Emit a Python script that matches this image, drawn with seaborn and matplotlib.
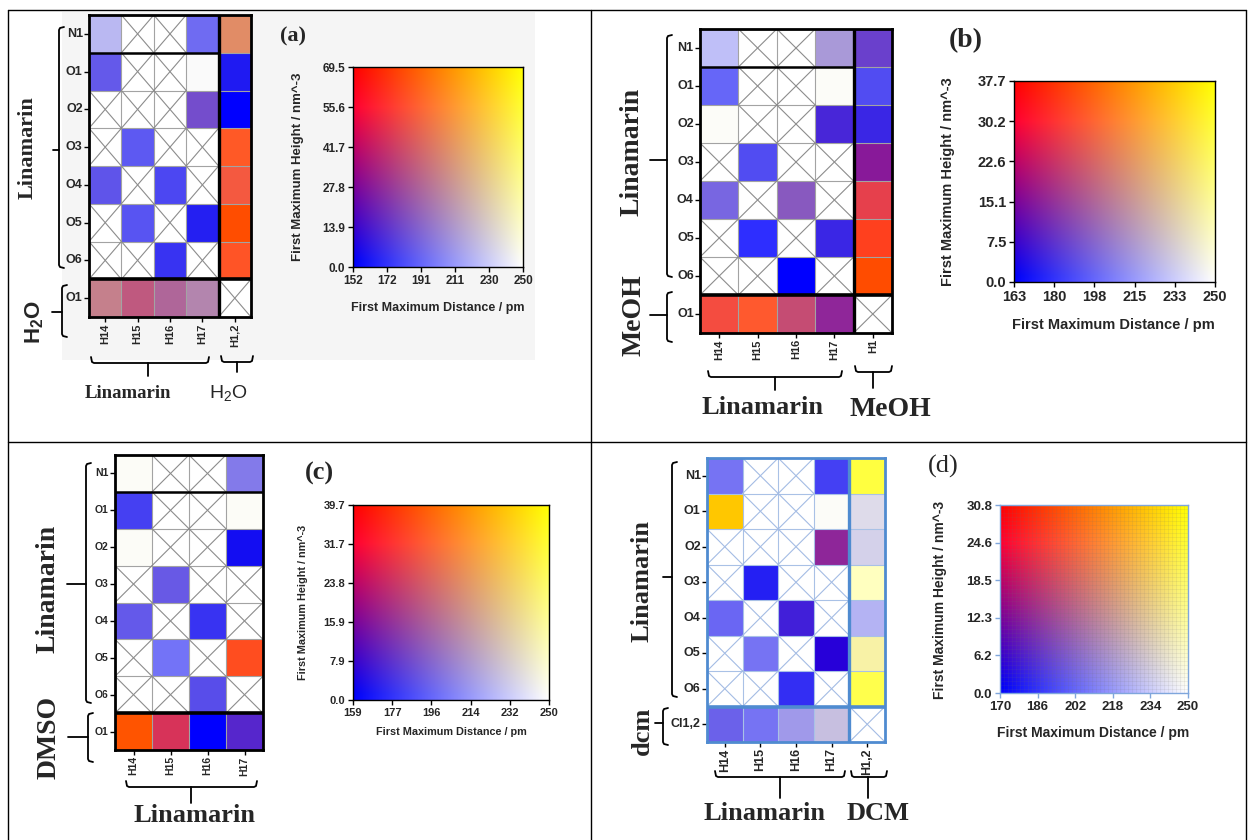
import numpy as np
import matplotlib
matplotlib.use("Agg")
import matplotlib.pyplot as plt
from matplotlib.colors import ListedColormap
from matplotlib.patches import Rectangle
import seaborn as sns

sns.set_theme(style="white")
plt.rcParams['font.family'] = ['Liberation Sans', 'DejaVu Sans']
plt.rcParams['mathtext.fontset'] = 'custom'
plt.rcParams['mathtext.rm'] = 'Liberation Sans'
plt.rcParams['mathtext.bf'] = 'Liberation Sans:bold'
plt.rcParams['mathtext.it'] = 'Liberation Sans:italic'

nan = np.nan

# ---------------- data ----------------
lin_rows = ["N1", "O1", "O2", "O3", "O4", "O5", "O6"]
lin_cols = ["H14", "H15", "H16", "H17"]

# (a) Linamarin in water
a_rows = lin_rows + ["O1"]
a_cols = lin_cols + ["H1,2"]
a_range = (152.0, 250.0, 69.5)
a_xticks = ["152", "172", "191", "211", "230", "250"]
a_yticks = ["0.0", "13.9", "27.8", "41.7", "55.6", "69.5"]
a_dist = [[222.6, nan, nan, 193.2, 205.9],
          [186.3, nan, nan, 248.0, 161.8],
          [nan, nan, nan, 181.4, 152.0],
          [nan, 186.3, nan, nan, 186.3],
          [184.3, nan, 179.4, nan, 186.3],
          [nan, 184.3, nan, 163.8, 181.4],
          [nan, nan, 171.6, nan, 184.3],
          [201.0, 186.3, 191.2, 203.0, nan]]
a_height = [[3.5, nan, nan, 3.5, 41.7],
            [5.6, nan, nan, 1.4, 3.5],
            [nan, nan, nan, 13.9, 0.0],
            [nan, 3.5, nan, nan, 59.1],
            [5.6, nan, 3.5, nan, 52.1],
            [nan, 3.5, nan, 3.5, 69.5],
            [nan, nan, 3.5, nan, 59.1],
            [31.3, 34.8, 27.8, 22.2, nan]]

# (b) Linamarin in methanol
b_rows = lin_rows + ["O1"]
b_cols = lin_cols + ["H1"]
b_range = (163.0, 250.0, 37.7)
b_xticks = ["163", "180", "198", "215", "233", "250"]
b_yticks = ["0.0", "7.5", "15.1", "22.6", "30.2", "37.7"]
b_dist = [[228.3, nan, nan, 215.2, 184.8],
          [197.8, nan, nan, 249.1, 189.1],
          [249.1, nan, nan, 176.1, 176.1],
          [nan, 189.1, nan, nan, 171.7],
          [197.8, nan, 193.5, nan, 184.8],
          [nan, 178.7, nan, 176.1, 184.8],
          [nan, nan, 163.0, nan, 189.1],
          [189.1, 193.5, 189.1, 176.1, nan]]
b_height = [[1.1, nan, nan, 5.7, 7.5],
            [1.1, nan, nan, 1.1, 1.9],
            [1.1, nan, nan, 5.7, 3.8],
            [nan, 1.9, nan, nan, 15.1],
            [4.5, nan, 9.4, nan, 26.4],
            [nan, 0.0, nan, 3.8, 33.2],
            [nan, nan, 0.0, nan, 37.7],
            [28.3, 30.9, 20.7, 15.1, nan]]

# (c) Linamarin in DMSO
c_rows = lin_rows + ["O1"]
c_cols = lin_cols
c_range = (159.0, 250.0, 39.7)
c_xticks = ["159", "177", "196", "214", "232", "250"]
c_yticks = ["0.0", "7.9", "15.9", "23.8", "31.7", "39.7"]
c_dist = [[249.1, nan, nan, 202.7],
          [181.8, nan, nan, 249.1],
          [249.1, nan, nan, 163.6],
          [nan, 190.9, nan, nan],
          [190.9, nan, 177.2, nan],
          [nan, 200.0, nan, 186.3],
          [nan, nan, 186.3, nan],
          [189.0, 177.2, 159.0, 172.7]]
c_height = [[1.2, nan, nan, 3.2],
            [2.0, nan, nan, 1.2],
            [1.2, nan, nan, 2.0],
            [nan, 4.0, nan, nan],
            [3.2, nan, 2.0, nan],
            [nan, 1.2, nan, 34.9],
            [nan, nan, 3.2, nan],
            [39.7, 25.8, 0.0, 7.9]]

# (d) Linamarin in dichloromethane
d_rows = lin_rows + ["Cl1,2"]
d_cols = lin_cols + ["H1,2"]
d_range = (170.0, 250.0, 30.8)
d_xticks = ["170", "186", "202", "218", "234", "250"]
d_yticks = ["0.0", "6.2", "12.3", "18.5", "24.6", "30.8"]
d_dist = [[206.0, nan, nan, 190.0, 250.0],
          [232.4, nan, nan, 249.2, 238.8],
          [nan, nan, nan, 182.0, 235.6],
          [nan, 179.6, nan, nan, 250.0],
          [202.0, nan, 179.6, nan, 226.0],
          [nan, 206.0, nan, 170.0, 246.0],
          [nan, nan, 184.4, nan, 250.0],
          [200.4, 206.0, 218.0, 230.0, nan]]
d_height = [[1.5, nan, nan, 1.5, 23.1],
            [30.8, nan, nan, 0.9, 2.5],
            [nan, nan, nan, 12.3, 2.5],
            [nan, 1.5, nan, nan, 7.7],
            [1.5, nan, 4.6, nan, 1.5],
            [nan, 1.5, nan, 4.6, 10.8],
            [nan, nan, 1.5, nan, 21.6],
            [2.5, 1.5, 2.5, 3.7, nan]]

xlab = "First Maximum Distance / pm"
ylab = "First Maximum Height / nm^-3"

# ---------------- helpers ----------------
W, H = 1254, 840
fig = plt.figure(figsize=(W / 100, H / 100), dpi=100, facecolor='white')


def px_axes(x0, y0, x1, y1):
    return fig.add_axes([x0 / W, 1 - y1 / H, (x1 - x0) / W, (y1 - y0) / H])


def bivar(u, v):
    u = np.clip(u, 0, 1)
    v = np.clip(v, 0, 1)
    rl = np.clip(1.3 * v - 0.04, 0, 1)
    r = 1 - (1 - u) * (1 - rl)
    g = u
    b = 1 - v
    return np.stack([r, g, b], -1)


ov = fig.add_axes([0, 0, 1, 1])
ov.set_xlim(0, W)
ov.set_ylim(H, 0)
ov.axis('off')
ov.set_zorder(-1)

SERIF = ['Liberation Serif', 'DejaVu Serif']

# table lines
for xs, ys in [([8, 1246], [10, 10]), ([8, 1246], [442, 442]),
               ([8, 8], [10, 840]), ([590.5, 590.5], [10, 840]),
               ([1246, 1246], [10, 840])]:
    ov.plot(xs, ys, color='black', lw=1.0)

# light background of panel (a)
ov.add_patch(Rectangle((62, 12), 473, 348, color='#f5f5f5', lw=0))


def draw_grid(box, dist, height, rng, rows, cols, n_main, style, fs_row, fs_col, thick_n1=True):
    ax = px_axes(*box)
    dist = np.asarray(dist, float)
    height = np.asarray(height, float)
    dmin, dmax, hmax = rng
    mask = np.isnan(dist)
    rgb = bivar(np.nan_to_num((dist - dmin) / (dmax - dmin)), np.nan_to_num(height / hmax))
    idx = np.arange(dist.size).reshape(dist.shape)
    sns.heatmap(idx, mask=mask, cmap=ListedColormap(rgb.reshape(-1, 3)),
                vmin=-0.5, vmax=dist.size - 0.5, cbar=False, ax=ax,
                xticklabels=cols, yticklabels=rows)
    ax.set_facecolor('white')
    nr, nc = dist.shape
    grid_c, x_c, frame_c = style
    for i in range(1, nr):
        ax.plot([0, nc], [i, i], color=grid_c, lw=0.8, zorder=3)
    for j in range(1, nc):
        ax.plot([j, j], [0, nr], color=grid_c, lw=0.8, zorder=3)
    for i, j in zip(*np.where(mask)):
        ax.plot([j, j + 1], [i, i + 1], color=x_c, lw=0.8, zorder=3)
        ax.plot([j, j + 1], [i + 1, i], color=x_c, lw=0.8, zorder=3)
    if thick_n1:
        ax.plot([0, n_main], [1, 1], color=frame_c, lw=1.8, zorder=4)
    ax.plot([0, nc], [nr - 1, nr - 1], color=frame_c, lw=2.6, zorder=4)
    if nc > n_main:
        ax.plot([n_main, n_main], [0, nr], color=frame_c, lw=2.4, zorder=4)
    for s in ax.spines.values():
        s.set_visible(True)
        s.set_color(frame_c)
        s.set_linewidth(2.0)
        s.set_zorder(5)
    ax.set_xlim(0, nc)
    ax.set_ylim(nr, 0)
    ax.tick_params(axis='both', which='both', left=True, bottom=True, length=3.5,
                   width=1.0, color='black', pad=1)
    ax.set_yticklabels(rows, rotation=0, fontsize=fs_row, fontweight='bold')
    ax.set_xticklabels(cols, rotation=90, fontsize=fs_col, fontweight='bold')
    return ax


def draw_legend(box, rng, xt, yt, fs_tick, spine_c='black', texture=False):
    ax = px_axes(*box)
    dmin, dmax, hmax = rng
    uu, vv = np.meshgrid(np.linspace(0, 1, 256), np.linspace(0, 1, 256))
    ax.imshow(bivar(uu, vv), origin='lower', extent=[dmin, dmax, 0, hmax],
              aspect='auto', interpolation='bilinear')
    if texture:
        for xv in np.linspace(dmin, dmax, 48):
            ax.axvline(xv, color='#707070', alpha=0.10, lw=0.7)
        for yv in np.linspace(0, hmax, 48):
            ax.axhline(yv, color='#707070', alpha=0.10, lw=0.7)
    ax.set_xlim(dmin, dmax)
    ax.set_ylim(0, hmax)
    ax.grid(False)
    ax.set_xticks(np.linspace(dmin, dmax, 6))
    ax.set_xticklabels(xt, fontsize=fs_tick, fontweight='bold')
    ax.set_yticks(np.linspace(0, hmax, 6))
    ax.set_yticklabels(yt, fontsize=fs_tick, fontweight='bold')
    ax.tick_params(left=True, bottom=True, length=3.5, width=1.0, pad=2, color=spine_c)
    for s in ax.spines.values():
        s.set_visible(True)
        s.set_color(spine_c)
        s.set_linewidth(1.0)
    return ax


def vbracket(x, y0, y1, ym, xstub, curl=5, lw=1.3):
    ov.plot([x + curl, x + 1, x, x, x + 1, x + curl],
            [y0, y0 + 1, y0 + 3, y1 - 3, y1 - 1, y1], color='black', lw=lw)
    ov.plot([x, xstub], [ym, ym], color='black', lw=lw)


def hbracket(y, x0, x1, xm, ystub, curl=6, lw=1.3):
    ov.plot([x0, x0 + 1, x0 + 3, x1 - 3, x1 - 1, x1],
            [y - curl, y - 1, y, y, y - 1, y - curl], color='black', lw=lw)
    ov.plot([xm, xm], [y, ystub], color='black', lw=lw)


black_style = ('#a3a3a3', '#8c8c8c', 'black')
blue_style = ('#a9c1e6', '#a4bce4', '#4f8bd0')

# ---------------- panel (a) ----------------
draw_grid((89, 15, 251, 317), a_dist, a_height, a_range, a_rows, a_cols, 4, black_style, 9, 8)
draw_legend((353, 67, 523, 267), a_range, a_xticks, a_yticks, 8.5)
ov.text(298, 167, ylab, rotation=90, ha='center', va='center', fontsize=9.5, fontweight='bold')
ov.text(438, 308, xlab, ha='center', va='center', fontsize=9, fontweight='bold')
ov.text(293, 36, "(a)", ha='center', va='center', fontsize=16, fontweight='bold', family=SERIF)
vbracket(59, 27, 268, 150, 53)
vbracket(62, 285, 337, 312, 52)
hbracket(363, 91, 209, 148, 376)
hbracket(362, 221, 253, 237, 372)
ov.text(28, 148, "Linamarin", rotation=90, ha='center', va='center', fontsize=16,
        fontweight='bold', family=SERIF)
ov.text(35, 322, r"H$_\mathbf{2}$O", rotation=90, ha='center', va='center', fontsize=16,
        fontweight='bold')
ov.text(128, 393, "Linamarin", ha='center', va='center', fontsize=13.5, fontweight='bold', family=SERIF)
ov.text(228, 393, r"H$_2$O", ha='center', va='center', fontsize=14)

# ---------------- panel (b) ----------------
draw_grid((700, 29, 892, 333), b_dist, b_height, b_range, b_rows, b_cols, 4, black_style, 9, 8)
draw_legend((1014, 81, 1215, 282), b_range, b_xticks, b_yticks, 10.5)
ov.text(948, 182, ylab, rotation=90, ha='center', va='center', fontsize=10.5, fontweight='bold')
ov.text(1113, 325, xlab, ha='center', va='center', fontsize=10.5, fontweight='bold')
ov.text(966, 41, "(b)", ha='center', va='center', fontsize=20, fontweight='bold', family=SERIF)
vbracket(667, 35, 277, 160, 650)
vbracket(667, 292, 342, 315, 650)
hbracket(377, 708, 842, 775, 390)
hbracket(372, 855, 892, 873, 388)
ov.text(632, 152, "Linamarin", rotation=90, ha='center', va='center', fontsize=20,
        fontweight='bold', family=SERIF)
ov.text(634, 315, "MeOH", rotation=90, ha='center', va='center', fontsize=20,
        fontweight='bold', family=SERIF)
ov.text(763, 407, "Linamarin", ha='center', va='center', fontsize=19, fontweight='bold', family=SERIF)
ov.text(890, 409, "MeOH", ha='center', va='center', fontsize=20, fontweight='bold', family=SERIF)

# ---------------- panel (c) ----------------
draw_grid((115, 455, 263, 750), c_dist, c_height, c_range, c_rows, c_cols, 4, black_style, 7.5, 7.5)
draw_legend((353, 505, 549, 700), c_range, c_xticks, c_yticks, 8)
ov.text(303, 602, ylab, rotation=90, ha='center', va='center', fontsize=7.8, fontweight='bold')
ov.text(451, 732, xlab, ha='center', va='center', fontsize=7.8, fontweight='bold')
ov.text(319, 473, "(c)", ha='center', va='center', fontsize=19, fontweight='bold', family=SERIF)
vbracket(86, 463, 703, 584, 67)
vbracket(88, 713, 762, 737, 68)
hbracket(787, 126, 257, 191, 803)
ov.text(48, 589, "Linamarin", rotation=90, ha='center', va='center', fontsize=20,
        fontweight='bold', family=SERIF)
ov.text(49, 737, "DMSO", rotation=90, ha='center', va='center', fontsize=20,
        fontweight='bold', family=SERIF)
ov.text(195, 815, "Linamarin", ha='center', va='center', fontsize=19, fontweight='bold', family=SERIF)

# ---------------- panel (d) ----------------
draw_grid((707, 458, 885, 742), d_dist, d_height, d_range, d_rows, d_cols, 4, blue_style, 9, 9,
          thick_n1=False)
draw_legend((1000, 505, 1188, 693), d_range, d_xticks, d_yticks, 9.5, spine_c='#7fa6dc', texture=True)
ov.text(940, 600, ylab, rotation=90, ha='center', va='center', fontsize=10, fontweight='bold')
ov.text(1093, 733, xlab, ha='center', va='center', fontsize=10, fontweight='bold')
ov.text(943, 466, "(d)", ha='center', va='center', fontsize=19, family=SERIF)
vbracket(672, 462, 697, 577, 663)
vbracket(663, 708, 745, 723, 655)
hbracket(777, 715, 845, 780, 798)
hbracket(777, 851, 887, 868, 798)
ov.text(642, 581, "Linamarin", rotation=90, ha='center', va='center', fontsize=19,
        fontweight='bold', family=SERIF)
ov.text(642, 731, "dcm", rotation=90, ha='center', va='center', fontsize=19,
        fontweight='bold', family=SERIF)
ov.text(764, 813, "Linamarin", ha='center', va='center', fontsize=19, fontweight='bold', family=SERIF)
ov.text(878, 813, "DCM", ha='center', va='center', fontsize=19, fontweight='bold', family=SERIF)

fig.savefig("out.png", dpi=100, facecolor='white')
